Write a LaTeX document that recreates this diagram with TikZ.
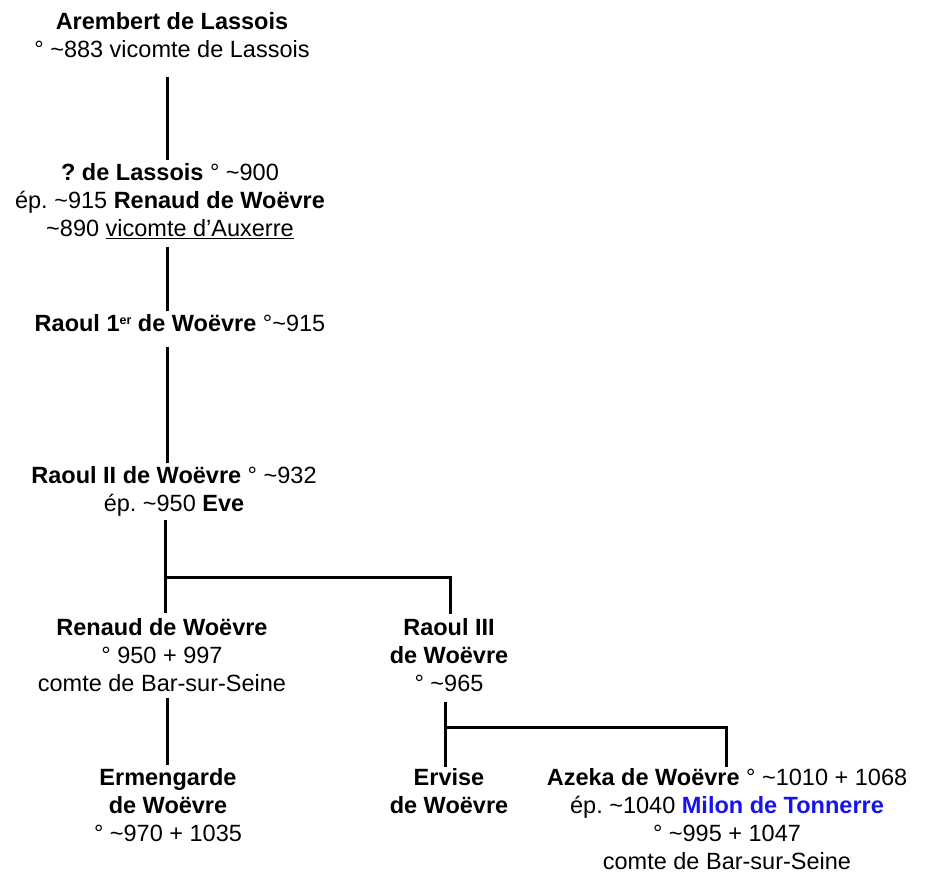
\documentclass[tikz,border=0pt]{standalone}
\usepackage{fontspec}
\setmainfont{Liberation Sans}
\usepackage{xcolor}
\definecolor{milon}{RGB}{20,20,235}
\newcommand{\tild}{\textasciitilde}
\newcommand{\topstrut}{\rule{0pt}{20pt}}
\newcommand{\supsmall}[1]{\raisebox{7pt}{\fontsize{12.5}{12.5}\selectfont #1}}
\frenchspacing
\begin{document}
\begin{tikzpicture}[x=1pt,y=-1pt,
  person/.style={anchor=north,align=center,inner sep=0pt,
    font=\fontsize{23.5}{28}\selectfont\frenchspacing},
  link/.style={line width=3pt,line join=miter}]
\useasboundingbox (0,0) rectangle (951,875);

% positions: (x centre, first baseline - 20)
\node[person] (arembert) at (172,9) {\topstrut\textbf{Arembert de Lassois}\\° \tild883 vicomte de Lassois};
\node[person] (lassois) at (170,160) {\topstrut\textbf{? de Lassois} ° \tild900\\ép. \tild915 \textbf{Renaud de Woëvre}\\\tild890 \underline{vicomte d’Auxerre}};
\node[person] (raoul1) at (180,311) {\topstrut\textbf{Raoul 1\supsmall{er} de Woëvre} °\tild915};
\node[person] (raoul2) at (174,463) {\topstrut\textbf{Raoul II de Woëvre} ° \tild932\\ép. \tild950 \textbf{Eve}};
\node[person] (renaud) at (162,615) {\topstrut\textbf{Renaud de Woëvre}\\° 950 + 997\\comte de Bar-sur-Seine};
\node[person] (raoul3) at (449,615) {\topstrut\textbf{Raoul III}\\\textbf{de Woëvre}\\° \tild965};
\node[person] (ermengarde) at (168,765) {\topstrut\textbf{Ermengarde}\\\textbf{de Woëvre}\\° \tild970 + 1035};
\node[person] (ervise) at (449,765) {\topstrut\textbf{Ervise}\\\textbf{de Woëvre}};
\node[person] (azeka) at (727,765) {\topstrut\textbf{Azeka de Woëvre} ° \tild1010 + 1068\\ép. \tild1040 \textcolor{milon}{\textbf{Milon de Tonnerre}}\\° \tild995 + 1047\\comte de Bar-sur-Seine};

\coordinate (fork1) at (165,577);
\coordinate (fork2) at (445,727);

% base anchor = baseline of the last line
\draw[link] ([xshift=-5pt,yshift=-20pt]arembert.base) -- ([xshift=-3pt]lassois.north);
\draw[link] ([xshift=-3pt,yshift=-11pt]lassois.base) -- ([xshift=-13pt]raoul1.north);
\draw[link] ([xshift=-13pt,yshift=-16pt]raoul1.base) -- ([xshift=-7pt]raoul2.north);
\draw[link] ([xshift=-9pt,yshift=-9pt]raoul2.base) -- (fork1) -- ([xshift=3pt,yshift=2pt]renaud.north);
\draw[link] (fork1) -| ([xshift=1pt,yshift=1pt]raoul3.north);
\draw[link] ([xshift=5pt,yshift=-7pt]renaud.base) -- ([xshift=-1pt]ermengarde.north);
\draw[link] ([xshift=-4pt,yshift=-11pt]raoul3.base) -- (fork2) -- ([xshift=-4pt,yshift=-2pt]ervise.north);
\draw[link] (fork2) -| ([xshift=-1pt,yshift=-2pt]azeka.north);
\end{tikzpicture}
\end{document}
